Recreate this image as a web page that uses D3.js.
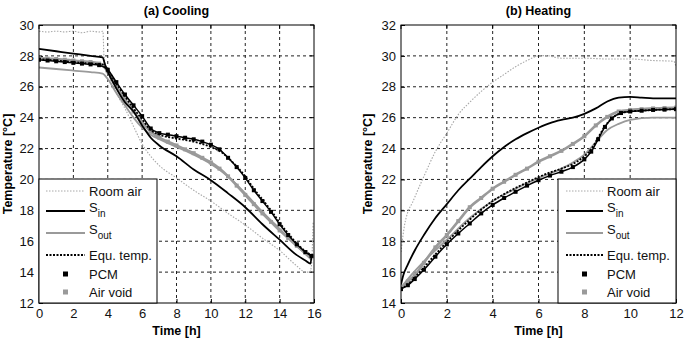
<!DOCTYPE html>
<html><head><meta charset="utf-8">
<script src="https://cdn.jsdelivr.net/npm/d3@7"></script>
<style>body{margin:0;background:#fff}svg{display:block}text{font-family:"Liberation Sans",Arial,sans-serif}</style>
</head><body><svg id="c" width="686" height="338"></svg>
<script>
// ---------- Data: (a) Cooling ----------
const coolRoom = [[0,29.6],[0.5,29.55],[1,29.6],[1.5,29.55],[2,29.6],[2.5,29.5],[3,29.6],[3.5,29.55],[3.72,29.6],[3.78,28.0],[4.0,27.0],[4.5,25.6],[5,24.6],[5.6,23.2],[6,22.3],[6.5,21.5],[7,20.9],[8,20.1],[9,19.3],[10,18.6],[11,17.8],[12,17.05],[13,16.2],[14,15.4],[15,14.4],[15.5,14.0],[15.75,14.0],[15.85,14.4],[15.95,17.3]];
const coolSin = [[0,28.45],[1,28.3],[2,28.15],[3,28.0],[3.7,27.9],[3.85,27.4],[4.5,25.9],[5,25.0],[5.5,24.4],[6,23.5],[6.5,22.7],[7,22.2],[8,21.5],[9,20.65],[10,19.95],[11,19.1],[12,18.2],[13,17.1],[14,16.1],[15,15.1],[15.5,14.75],[15.8,14.55],[15.85,15.0]];
const coolSout = [[0,27.25],[1,27.15],[2,27.05],[3,26.95],[3.7,26.85],[4,26.5],[4.5,25.6],[5,24.8],[5.5,24.0],[6,23.35],[6.5,22.9],[7,22.6],[8,22.1],[9,21.6],[10,21.0],[11,20.2],[12,19.1],[13,17.9],[14,16.8],[15,15.7],[15.85,14.8]];
const coolEqu = [[0,27.8],[1,27.7],[2,27.6],[3,27.5],[3.7,27.45],[4,27.1],[4.5,26.2],[5,25.4],[5.5,24.6],[6,23.9],[6.5,23.2],[7,22.9],[8,22.65],[9,22.45],[10,22.1],[10.5,21.85],[11,21.4],[11.5,20.85],[12,20.2],[12.5,19.4],[13,18.7],[13.5,18.0],[14,17.2],[14.5,16.5],[15,15.85],[15.5,15.35],[15.85,15.1]];
const coolPcm = [[0,27.75],[0.5,27.7],[1,27.65],[1.5,27.6],[2,27.55],[2.5,27.5],[3,27.45],[3.5,27.4],[4,27.1],[4.5,26.3],[5,25.5],[5.5,24.8],[6,24.1],[6.5,23.3],[7,23.0],[7.5,22.9],[8,22.8],[8.5,22.7],[9,22.6],[9.5,22.45],[10,22.25],[10.5,21.95],[11,21.4],[11.5,20.8],[12,20.1],[12.5,19.3],[13,18.6],[13.5,17.9],[14,17.1],[14.5,16.4],[15,15.8],[15.5,15.3],[15.85,15.05]];
const coolVoid = [[0,27.85],[0.5,27.82],[1,27.8],[1.5,27.75],[2,27.7],[2.5,27.65],[3,27.6],[3.5,27.5],[4,27.0],[4.5,26.0],[5,25.2],[5.5,24.4],[6,23.7],[6.5,23.1],[7,22.7],[7.5,22.45],[8,22.2],[8.5,21.95],[9,21.7],[9.5,21.4],[10,21.1],[10.5,20.7],[11,20.2],[11.5,19.6],[12,19.0],[12.5,18.4],[13,17.8],[13.5,17.25],[14,16.7],[14.5,16.2],[15,15.7],[15.5,15.25],[15.85,15.0]];

// ---------- Data: (b) Heating ----------
const heatRoom = [[0,17.3],[0.15,19.0],[0.3,19.9],[0.5,20.5],[0.7,21.2],[1,22.2],[1.5,23.8],[2,25.0],[2.5,26.2],[3,27.0],[3.5,27.7],[4,28.3],[4.5,28.8],[5,29.3],[5.5,29.7],[6,30.0],[6.3,30.02],[7,29.85],[8,29.85],[9,29.8],[10,29.8],[11,29.7],[11.9,29.65],[12,29.3]];
const heatSin = [[0,15.2],[0.1,15.8],[0.3,16.5],[0.6,17.4],[1,18.4],[1.5,19.5],[2,20.4],[2.5,21.3],[3,22.05],[3.5,22.8],[4,23.5],[4.5,24.1],[5,24.6],[5.5,25.0],[6,25.35],[6.5,25.65],[7,25.85],[7.5,26.0],[8,26.25],[8.5,26.6],[9,27.05],[9.5,27.3],[10,27.35],[10.5,27.3],[11,27.25],[12,27.25]];
const heatSout = [[0,15.0],[0.5,15.9],[1,16.7],[2,18.1],[3,19.5],[4,20.6],[5,21.4],[6,22.1],[7,22.7],[7.5,23.1],[8,23.6],[8.5,24.4],[9,25.2],[9.5,25.6],[10,25.85],[11,26.0],[12,26.0]];
const heatEqu = [[0,14.9],[0.3,15.2],[0.6,15.65],[1,16.3],[1.5,17.15],[2,17.95],[2.5,18.7],[3,19.4],[3.5,20.05],[4,20.6],[4.5,21.05],[5,21.45],[5.5,21.8],[6,22.15],[6.5,22.45],[7,22.7],[7.5,23.0],[8,23.5],[8.3,23.95],[8.6,24.7],[8.9,25.45],[9.2,25.95],[9.6,26.3],[10,26.4],[10.5,26.45],[11,26.5],[12,26.55]];
const heatPcm = [[0,14.9],[0.3,15.15],[0.6,15.55],[1,16.15],[1.5,17.0],[2,17.8],[2.5,18.5],[3,19.15],[3.5,19.8],[4,20.35],[4.5,20.8],[5,21.2],[5.5,21.6],[6,21.95],[6.5,22.25],[7,22.5],[7.5,22.8],[8,23.3],[8.3,23.8],[8.6,24.6],[8.9,25.4],[9.2,25.95],[9.6,26.3],[10,26.4],[10.5,26.45],[11,26.5],[11.5,26.52],[12,26.55]];
const heatVoid = [[0,14.9],[0.3,15.4],[0.6,15.8],[1,16.6],[1.5,17.6],[2,18.4],[2.5,19.3],[3,20.2],[3.5,20.8],[4,21.4],[4.5,21.85],[5,22.3],[5.5,22.7],[6,23.15],[6.5,23.5],[7,23.85],[7.5,24.3],[8,24.8],[8.5,25.5],[9,26.05],[9.5,26.4],[10,26.5],[10.5,26.55],[11,26.6],[11.5,26.62],[12,26.65]];

const coolXTicks = [0,2,4,6,8,10,12,14,16];
const coolYTicks = [12,14,16,18,20,22,24,26,28,30];
const heatXTicks = [0,2,4,6,8,10,12];
const heatYTicks = [14,16,18,20,22,24,26,28,30,32];
const titles = ["(a) Cooling","(b) Heating"];
const xLabel = "Time [h]";
const yLabel = "Temperature [°C]";
const legendNames = ["Room air","S|in","S|out","Equ. temp.","PCM","Air void"];

// ---------- Styles ----------
const styles = {
  room:{stroke:"#a8a8a8",width:1.1,dash:"1.5,1.5"},
  sin:{stroke:"#000",width:1.8,dash:null},
  sout:{stroke:"#9a9a9a",width:1.8,dash:null},
  equ:{stroke:"#000",width:1.8,dash:"2,1.5"},
  pcm:{stroke:"#000",width:1.5,dash:null,marker:"#000"},
  void:{stroke:"#9a9a9a",width:2.6,dash:null,marker:"#9a9a9a"}
};

const svg = d3.select("#c");

function panel(cfg){
  const g = svg.append("g");
  const x = d3.scaleLinear().domain(cfg.xd).range([cfg.x0,cfg.x1]);
  const y = d3.scaleLinear().domain(cfg.yd).range([cfg.y1,cfg.y0]);
  // grid
  g.append("g").selectAll("line").data(cfg.xt.slice(1,-1)).join("line")
    .attr("x1",d=>x(d)).attr("x2",d=>x(d)).attr("y1",cfg.y0).attr("y2",cfg.y1)
    .attr("stroke","#222").attr("stroke-width",1).attr("stroke-dasharray","3,3");
  g.append("g").selectAll("line").data(cfg.yt.slice(1,-1)).join("line")
    .attr("y1",d=>y(d)).attr("y2",d=>y(d)).attr("x1",cfg.x0).attr("x2",cfg.x1)
    .attr("stroke","#222").attr("stroke-width",1).attr("stroke-dasharray","3,3");
  // axes
  const xa = g.append("g").attr("transform",`translate(0,${cfg.y1})`)
    .call(d3.axisBottom(x).tickValues(cfg.xt).tickSize(-4).tickPadding(6));
  const ya = g.append("g").attr("transform",`translate(${cfg.x0},0)`)
    .call(d3.axisLeft(y).tickValues(cfg.yt).tickSize(-4).tickPadding(5));
  [xa,ya].forEach(a=>{a.select(".domain").remove();a.selectAll("line").attr("stroke","#000");
    a.selectAll("text").attr("font-size",13).attr("fill","#111").attr("font-family","Liberation Sans, Arial, sans-serif");});
  // top/right ticks
  g.append("g").selectAll("line").data(cfg.xt).join("line").attr("x1",d=>x(d)).attr("x2",d=>x(d))
    .attr("y1",cfg.y0).attr("y2",cfg.y0+4).attr("stroke","#000");
  g.append("g").selectAll("line").data(cfg.yt).join("line").attr("y1",d=>y(d)).attr("y2",d=>y(d))
    .attr("x1",cfg.x1).attr("x2",cfg.x1-4).attr("stroke","#000");
  // lines
  const clip = "clip"+cfg.id;
  svg.append("clipPath").attr("id",clip).append("rect").attr("x",cfg.x0).attr("y",cfg.y0)
    .attr("width",cfg.x1-cfg.x0).attr("height",cfg.y1-cfg.y0);
  const line = d3.line().x(d=>x(d[0])).y(d=>y(d[1])).curve(d3.curveMonotoneX);
  const lg = g.append("g").attr("clip-path",`url(#${clip})`);
  cfg.series.forEach(s=>{
    const st = styles[s.k];
    lg.append("path").attr("d",line(s.data)).attr("fill","none").attr("stroke",st.stroke)
      .attr("stroke-width",st.width).attr("stroke-dasharray",st.dash).attr("stroke-linejoin","round");
    if(st.marker){
      lg.append("g").selectAll("rect").data(s.data).join("rect")
        .attr("x",d=>x(d[0])-2).attr("y",d=>y(d[1])-2).attr("width",4).attr("height",4).attr("fill",st.marker);
    }
  });
  // frame
  g.append("rect").attr("x",cfg.x0).attr("y",cfg.y0).attr("width",cfg.x1-cfg.x0).attr("height",cfg.y1-cfg.y0)
    .attr("fill","none").attr("stroke","#000").attr("stroke-width",1);
  // titles
  g.append("text").attr("x",(cfg.x0+cfg.x1)/2).attr("y",15).attr("text-anchor","middle")
    .attr("font-size",12.5).attr("font-weight","bold").text(cfg.title);
  g.append("text").attr("x",(cfg.x0+cfg.x1)/2).attr("y",335).attr("text-anchor","middle")
    .attr("font-size",12.5).attr("font-weight","bold").text(xLabel);
  g.append("text").attr("transform",`translate(${cfg.ylx},${(cfg.y0+cfg.y1)/2}) rotate(-90)`)
    .attr("text-anchor","middle").attr("font-size",12.5).attr("font-weight","bold").text(yLabel);
  // legend
  const L = cfg.leg;
  const lgd = g.append("g");
  lgd.append("rect").attr("x",L.x).attr("y",L.y).attr("width",L.w).attr("height",L.h)
    .attr("fill","#fff").attr("stroke","#000").attr("stroke-width",1);
  const keys = ["room","sin","sout","equ","pcm","void"];
  const rows = [12,32,54,76,95,113];
  keys.forEach((k,i)=>{
    const st = styles[k]; const yy = L.y+rows[i];
    if(k==="pcm"||k==="void"){
      lgd.append("rect").attr("x",L.lx0+(L.lx1-L.lx0)/2-2.5).attr("y",yy-2.5).attr("width",5).attr("height",5).attr("fill",st.marker);
    } else {
      lgd.append("line").attr("x1",L.lx0).attr("x2",L.lx1).attr("y1",yy).attr("y2",yy)
        .attr("stroke",st.stroke).attr("stroke-width",k==="room"?1:2).attr("stroke-dasharray",st.dash);
    }
    const name = legendNames[i];
    const t = lgd.append("text").attr("x",L.lx1+4).attr("y",yy+4.5).attr("font-size",13).attr("fill","#111");
    if(name.includes("|")){
      const [a,b] = name.split("|");
      t.attr("y",yy+1);
      t.append("tspan").text(a);
      t.append("tspan").attr("dy",5).attr("font-size",10).text(b);
    } else t.text(name);
  });
}

panel({id:"a",xd:[0,16],yd:[12,30],x0:39,x1:314,y0:25,y1:303,xt:coolXTicks,yt:coolYTicks,title:titles[0],ylx:12,
  series:[{k:"room",data:coolRoom},{k:"sout",data:coolSout},{k:"void",data:coolVoid},{k:"sin",data:coolSin},{k:"pcm",data:coolPcm},{k:"equ",data:coolEqu}],
  leg:{x:39,y:179,w:118,h:124,lx0:46,lx1:85}});
panel({id:"b",xd:[0,12],yd:[14,32],x0:401,x1:676,y0:25,y1:303,xt:heatXTicks,yt:heatYTicks,title:titles[1],ylx:372,
  series:[{k:"room",data:heatRoom},{k:"sout",data:heatSout},{k:"void",data:heatVoid},{k:"sin",data:heatSin},{k:"pcm",data:heatPcm},{k:"equ",data:heatEqu}],
  leg:{x:558,y:179,w:118,h:124,lx0:566,lx1:603}});
</script></body></html>
